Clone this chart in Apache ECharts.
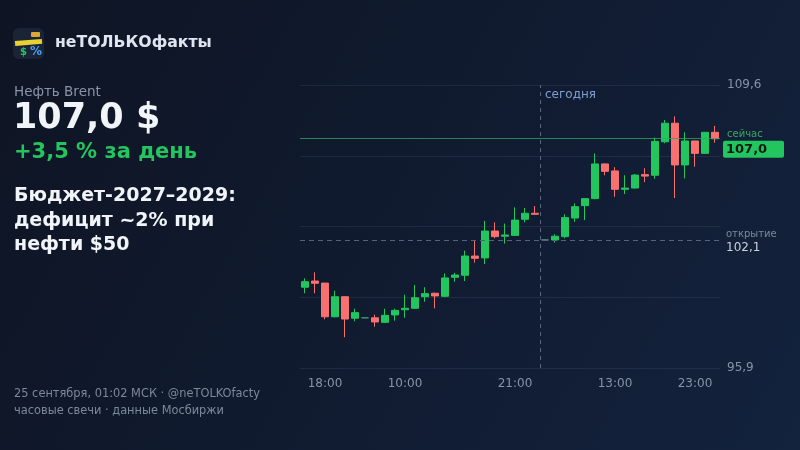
<!DOCTYPE html>
<html><head><meta charset="utf-8">
<script src="https://cdn.jsdelivr.net/npm/echarts@6/dist/echarts.min.js"></script>
<style>html,body{margin:0;padding:0;background:#0f1626}#c{width:800px;height:450px}</style>
</head><body><div id="c"></div>
<script>
// ---- data ----
const categories = ['16:00','17:00','18:00','19:00','20:00','21:00','22:00','23:00',
  '08:00','09:00','10:00','11:00','12:00','13:00','14:00','15:00','16:00','17:00','18:00','19:00','20:00','21:00','22:00','23:00',
  '06:00','07:00','08:00','09:00','10:00','11:00','12:00','13:00','14:00','15:00','16:00','17:00','19:00','20:00','22:00','23:00','00:00','01:00'];
const labelIndices = [2, 10, 21, 31, 39];
const opens  = [99.81,100.11,100.01,98.38,99.35,98.31,98.33,98.33,98.11,98.47,98.72,98.79,99.35,99.52,99.37,100.29,100.39,101.32,101.23,102.53,102.28,102.32,103.10,103.39,
  102.10,102.10,102.26,103.16,103.76,104.10,105.78,105.44,104.55,104.61,105.26,105.23,106.85,107.75,105.73,106.89,106.29,107.31];
const closes = [100.08,100.00,98.38,99.35,98.27,98.58,98.33,98.13,98.45,98.69,98.79,99.30,99.50,99.39,100.26,100.40,101.32,101.21,102.53,102.26,102.34,103.06,103.39,103.34,
  102.10,102.28,103.18,103.71,104.10,105.78,105.42,104.55,104.61,105.24,105.19,106.87,107.75,105.73,106.89,106.29,107.31,107.00];
const lows   = [99.52,99.52,98.26,98.35,97.39,98.16,98.31,97.90,98.10,98.19,98.33,98.77,99.11,98.79,99.33,100.08,100.11,101.00,100.93,102.18,101.92,102.30,102.95,103.33,
  102.08,101.97,102.18,102.98,103.06,104.07,105.23,104.19,104.32,104.59,104.90,105.06,106.78,104.13,105.08,105.65,106.27,106.81];
const highs  = [100.24,100.53,100.02,99.64,99.38,98.77,98.35,98.48,98.77,98.77,99.45,99.92,99.81,99.54,100.48,100.51,101.58,102.06,103.02,102.95,102.89,103.68,103.65,103.74,
  102.12,102.37,103.34,103.87,104.12,106.29,105.80,105.62,105.23,105.29,105.57,107.05,107.91,108.08,107.31,106.90,107.33,107.62];
const todayIndex = 24;
const yMin = 95.9, yMax = 109.6, ySplits = 4;

// ---- derived ----
const ohlc = opens.map((o, i) => [o, closes[i], lows[i], highs[i]]);
const lastPrice = closes[closes.length - 1];
const openPrice = opens[todayIndex];
const fmt = v => v.toFixed(1).replace('.', ',');

const FONT = 'DejaVu Sans';
const UP = '#22c55e', DOWN = '#f87171';

const chart = echarts.init(document.getElementById('c'), null, {renderer: 'canvas'});

const baseGraphics = [
  {id:'logoBg', type:'rect', shape:{x:13,y:28,width:31,height:31,r:6}, style:{fill:'#1b2436'}},
  {id:'logoGold', type:'rect', shape:{x:31,y:32,width:9,height:5,r:1}, style:{fill:'#d9a935'}},
  {id:'logoBand', type:'rect', shape:{x:15,y:40,width:27,height:5}, rotation:0.08, originX:28, originY:42, style:{fill:'#e6d332'}},
  {id:'logoDollar', type:'text', x:20, y:52, style:{text:'$', fill:'#22c55e', font:'bold 10px ' + FONT, verticalAlign:'middle'}},
  {id:'logoPct', type:'text', x:30, y:52, style:{text:'%', fill:'#4a9ef0', font:'bold 12px ' + FONT, verticalAlign:'middle'}},
  {id:'brand', type:'text', x:55, y:43, style:{text:'неТОЛЬКОфакты', fill:'#dfe6f0', font:'bold 15.7px ' + FONT, verticalAlign:'middle'}},
  {id:'asset', type:'text', x:14, y:92, style:{text:'Нефть Brent', fill:'#8a94a6', font:'13.5px ' + FONT, verticalAlign:'middle'}},
  {id:'price', type:'text', x:13, y:119, style:{text:fmt(lastPrice) + ' $', fill:'#f1f4f8', font:'bold 35px ' + FONT, verticalAlign:'middle'}},
  {id:'chg', type:'text', x:14, y:153, style:{text:'+3,5 % за день', fill:UP, font:'bold 21px ' + FONT, verticalAlign:'middle'}},
  {id:'h1', type:'text', x:14, y:196, style:{text:'Бюджет-2027–2029:', fill:'#f1f4f8', font:'bold 19px ' + FONT, verticalAlign:'middle'}},
  {id:'h2', type:'text', x:14, y:221, style:{text:'дефицит ~2% при', fill:'#f1f4f8', font:'bold 19px ' + FONT, verticalAlign:'middle'}},
  {id:'h3', type:'text', x:14, y:245, style:{text:'нефти $50', fill:'#f1f4f8', font:'bold 19px ' + FONT, verticalAlign:'middle'}},
  {id:'f1', type:'text', x:14, y:394, style:{text:'25 сентября, 01:02 МСК · @neTOLKOfacty', fill:'#7d889b', font:'11.4px ' + FONT, verticalAlign:'middle'}},
  {id:'f2', type:'text', x:14, y:411, style:{text:'часовые свечи · данные Мосбиржи', fill:'#7d889b', font:'11.4px ' + FONT, verticalAlign:'middle'}}
];

const option = {
  animation: false,
  backgroundColor: {type:'linear', x:0, y:0, x2:1, y2:1, colorStops:[{offset:0,color:'#0e1423'},{offset:1,color:'#13223d'}]},
  textStyle: {fontFamily: FONT},
  grid: {left: 300, right: 80, top: 85, bottom: 82},
  xAxis: [{
    type:'category', data: categories, boundaryGap: true,
    axisLine:{show:false}, axisTick:{show:false}, splitLine:{show:false},
    axisLabel:{interval: (i) => labelIndices.includes(i), color:'#8793a6', fontSize:12, margin:10, fontFamily: FONT}
  },{
    type:'value', min: -0.5, max: categories.length - 0.5, show:false
  }],
  yAxis: {
    type:'value', position:'right', min:yMin, max:yMax, interval:(yMax - yMin) / ySplits, scale:true,
    axisLine:{show:false}, axisTick:{show:false},
    splitLine:{show:true, lineStyle:{color:'rgba(130,150,180,0.13)', width:1}},
    axisLabel:{margin:7, color:'#8793a6', fontSize:12, fontFamily: FONT,
      formatter: v => (Math.abs(v - yMin) < 1e-6 || Math.abs(v - yMax) < 1e-6) ? fmt(v) : ''}
  },
  series: [{
    type:'candlestick', data: ohlc, barWidth: 7,
    itemStyle:{color:UP, color0:DOWN, borderColor:UP, borderColor0:DOWN, borderColorDoji:'#4f8f78', borderWidth:1},
    markLine: {
      silent:true, symbol:['none','none'],
      data: [
        {yAxis: lastPrice, lineStyle:{color:'rgba(46,170,95,0.75)', type:'solid', width:1},
          label:{show:true, position:'end', distance:3, padding:[7,0,0,0], formatter: '{a|сейчас}\n{b|' + fmt(lastPrice) + '}',
            rich:{
              a:{color:'#3aa866', fontSize:10, lineHeight:14, padding:[0,0,0,4], fontFamily:FONT},
              b:{backgroundColor:UP, color:'#0c1a12', fontWeight:'bold', fontSize:13, height:16, lineHeight:16, width:55, padding:[1,3,0,3], borderRadius:2, fontFamily:FONT}
            }}},
        {yAxis: openPrice, lineStyle:{color:'#55637a', type:[5,4], width:1},
          label:{show:true, position:'end', distance:6, padding:[3,0,0,0], formatter: '{a|открытие}\n{b|' + fmt(openPrice) + '}',
            rich:{
              a:{color:'#7c889b', fontSize:10, lineHeight:12, fontFamily:FONT},
              b:{color:'#c9d1dc', fontSize:12, lineHeight:15, fontFamily:FONT}
            }}}
      ]
    }
  },{
    type:'line', xAxisIndex:1, data:[], silent:true,
    markLine:{silent:true, symbol:['none','none'],
      lineStyle:{color:'#56647c', type:[4,4], width:1},
      label:{show:false},
      data:[{xAxis: todayIndex - 0.5}]}
  }],
  graphic: baseGraphics
};
chart.setOption(option);

const xToday = chart.convertToPixel({xAxisIndex:1}, todayIndex - 0.5);
const yTop = chart.convertToPixel({yAxisIndex:0}, yMax);
chart.setOption({graphic: baseGraphics.concat([
  {id:'todayLbl', type:'text', x: xToday + 5, y: yTop + 10, style:{text:'сегодня', fill:'#7f9fd0', font:'12px ' + FONT, verticalAlign:'middle'}}
])});
</script>
</body></html>
